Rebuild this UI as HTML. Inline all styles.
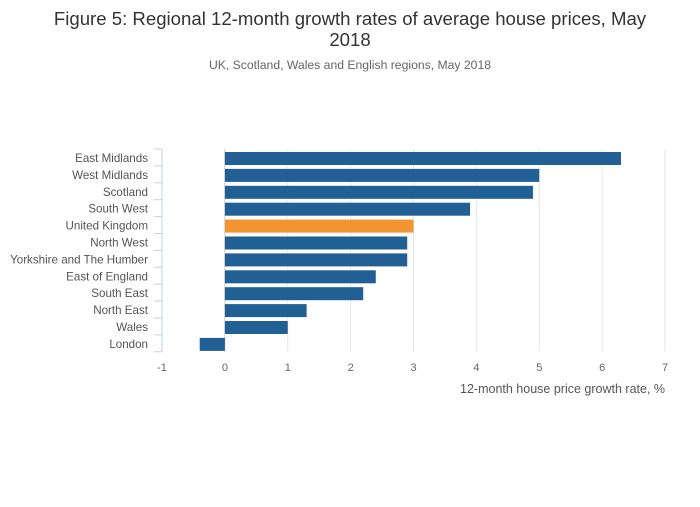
<!DOCTYPE html>
<html><head><meta charset="utf-8"><style>
body{margin:0;background:#fff;font-family:"Liberation Sans",sans-serif;}
</style></head><body>
<svg width="700" height="502" xmlns="http://www.w3.org/2000/svg" font-family="Liberation Sans, sans-serif">
<text x="350" y="25" text-anchor="middle" font-size="18.6" fill="#333">Figure 5: Regional 12-month growth rates of average house prices, May</text>
<text x="350" y="46" text-anchor="middle" font-size="18.6" fill="#333">2018</text>
<text x="350" y="69" text-anchor="middle" font-size="12.2" fill="#666">UK, Scotland, Wales and English regions, May 2018</text>
<g id="grid"></g><g id="bars"></g><g id="axes"></g>
<text x="665" y="393" text-anchor="end" font-size="12.5" fill="#555">12-month house price growth rate, %</text>
</svg>
<script>
const categories=["East Midlands","West Midlands","Scotland","South West","United Kingdom","North West","Yorkshire and The Humber","East of England","South East","North East","Wales","London"];
const values=[6.3,5.0,4.9,3.9,3.0,2.9,2.9,2.4,2.2,1.3,1.0,-0.4];
const xTicks=[-1,0,1,2,3,4,5,6,7];
const NS="http://www.w3.org/2000/svg";
const x0=162,x1=665,vmin=-1,vmax=7,yTop=149,step=16.9;
const X=v=>x0+(v-vmin)/(vmax-vmin)*(x1-x0);
const Y=i=>yTop+i*step;
function mk(t,a,p){const e=document.createElementNS(NS,t);for(const k in a)e.setAttribute(k,a[k]);p.appendChild(e);return e;}
const grid=document.getElementById('grid'),bars=document.getElementById('bars'),axes=document.getElementById('axes');
const bottom=Y(categories.length);
xTicks.forEach(t=>{
 if(t>vmin){const l=mk('line',{x1:X(t),x2:X(t),y1:yTop,y2:bottom,stroke:t===0?'#ccc':'#e6e6e6','stroke-width':1},grid);
 
 }
 const tx=mk('text',{x:X(t),y:bottom+19,'text-anchor':'middle','font-size':11,fill:'#666'},axes);
 tx.textContent=t;
 
 
});
const ax=mk('line',{x1:x0,x2:x0,y1:yTop,y2:bottom,stroke:'#c5d0e6','stroke-width':1},axes);


for(let i=0;i<=categories.length;i++){
 const tk=mk('line',{x1:x0-8,x2:x0,y1:Y(i),y2:Y(i),stroke:'#c5d0e6','stroke-width':1},axes);
 
 
}
categories.forEach((c,i)=>{
 const v=values[i];
 const r=mk('rect',{x:Math.min(X(0),X(v)),y:Y(i)+3,width:Math.abs(X(v)-X(0)),height:13,fill:c==="United Kingdom"?'#f39431':'#206095'},bars);
 
 
 const t=mk('text',{x:148,y:Y(i)+13,'text-anchor':'end','font-size':11.6,fill:'#555'},axes);
 t.textContent=c;
 
 
});
</script>
</body></html>
